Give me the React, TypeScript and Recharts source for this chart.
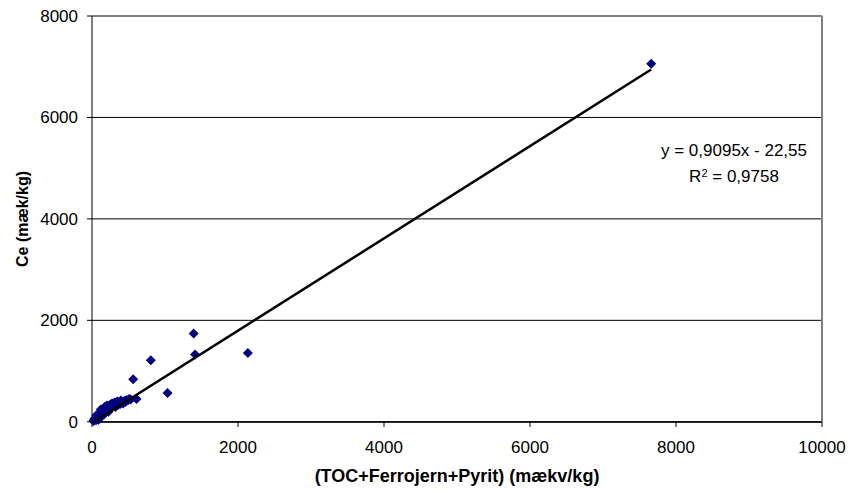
import { ScatterChart, Scatter, XAxis, YAxis, CartesianGrid, ReferenceLine } from 'recharts';

// (TOC+Ferrojern+Pyrit) in mækv/kg
const tocFePyrit = [
  7660, 2135, 1393, 1412, 806, 1035, 564, 610,
  20, 30, 45, 55, 70, 80, 95, 105, 115, 130, 140, 150, 160, 175, 185, 195,
  205, 215, 225, 240, 250, 260, 275, 285, 300, 310, 320, 335, 345, 355,
  370, 385, 395, 410, 425, 440, 455, 470, 490, 510, 530, 60, 120, 180, 90, 35
];

// Ce in mæk/kg, same order
const ceValues = [
  7058, 1356, 1738, 1324, 1212, 567, 837, 450,
  15, 40, 70, 30, 95, 60, 120, 150, 100, 200, 170, 240, 140, 210, 280, 230,
  320, 260, 200, 300, 340, 280, 360, 310, 330, 380, 290, 360, 400, 330,
  390, 350, 420, 380, 360, 410, 390, 430, 420, 450, 440, 130, 240, 300, 40, 60
];

const xTicks = [0, 2000, 4000, 6000, 8000, 10000];
const yTicks = [0, 2000, 4000, 6000, 8000];

// linear trendline as printed on the chart
const slope = 0.9095;
const intercept = -22.55;
const equationLabel = 'y = 0,9095x - 22,55';
const r2Label = '0,9758';

const points = tocFePyrit.map((x, i) => ({ x, y: ceValues[i] }));
const xMin = Math.min(...tocFePyrit);
const xMax = Math.max(...tocFePyrit);
const trend = [
  { x: xMin, y: slope * xMin + intercept },
  { x: xMax, y: slope * xMax + intercept }
];

const font = '"Liberation Sans", Arial, sans-serif';

function Diamond(props: any) {
  const { cx, cy } = props;
  const r = 5;
  return (
    <polygon
      points={`${cx},${cy - r} ${cx + r},${cy} ${cx},${cy + r} ${cx - r},${cy}`}
      fill="#000080"
    />
  );
}

function NoDot() {
  return <g />;
}

export default function App() {
  return (
    <div style={{ position: 'absolute', left: 0, top: 0, width: 848, height: 490, background: '#fff', fontFamily: font }}>
      <ScatterChart width={848} height={490} margin={{ top: 16, right: 26, bottom: 8, left: 0 }} style={{ fontFamily: font }}>
        <CartesianGrid horizontal vertical={false} stroke="#000" strokeWidth={1} />
        <XAxis
          type="number"
          dataKey="x"
          domain={[0, 10000]}
          ticks={xTicks}
          interval={0}
          height={60}
          tickSize={5}
          tickMargin={14}
          axisLine={{ stroke: '#000' }}
          tickLine={{ stroke: '#000' }}
          tick={{ fill: '#000', fontSize: 17 }}
          label={{
            value: '(TOC+Ferrojern+Pyrit) (mækv/kg)',
            position: 'insideBottom',
            offset: 0,
            style: { fontWeight: 'bold', fontSize: 18, fill: '#000' }
          }}
        />
        <YAxis
          type="number"
          dataKey="y"
          domain={[0, 8000]}
          ticks={yTicks}
          interval={0}
          width={92}
          tickSize={5}
          tickMargin={9}
          axisLine={{ stroke: '#000' }}
          tickLine={{ stroke: '#000' }}
          tick={{ fill: '#000', fontSize: 17 }}
          label={{
            value: 'Ce (mæk/kg)',
            angle: -90,
            position: 'insideLeft',
            offset: 22,
            style: { textAnchor: 'middle', fontWeight: 'bold', fontSize: 16, fill: '#000' }
          }}
        />
        <ReferenceLine y={8000} stroke="#808080" strokeWidth={2} />
        <ReferenceLine x={10000} stroke="#808080" strokeWidth={2} />
        <Scatter data={points} fill="#000080" shape={Diamond} isAnimationActive={false} />
        <Scatter
          data={trend}
          line={{ stroke: '#000', strokeWidth: 2.5 }}
          shape={NoDot}
          isAnimationActive={false}
        />
      </ScatterChart>
      <div
        style={{
          position: 'absolute',
          left: 634,
          top: 138,
          width: 200,
          textAlign: 'center',
          fontSize: 17,
          lineHeight: '26px',
          color: '#000'
        }}
      >
        <div>{equationLabel}</div>
        <div>
          R<sup style={{ fontSize: 11, verticalAlign: 'top', lineHeight: '18px' }}>2</sup> = {r2Label}
        </div>
      </div>
    </div>
  );
}
